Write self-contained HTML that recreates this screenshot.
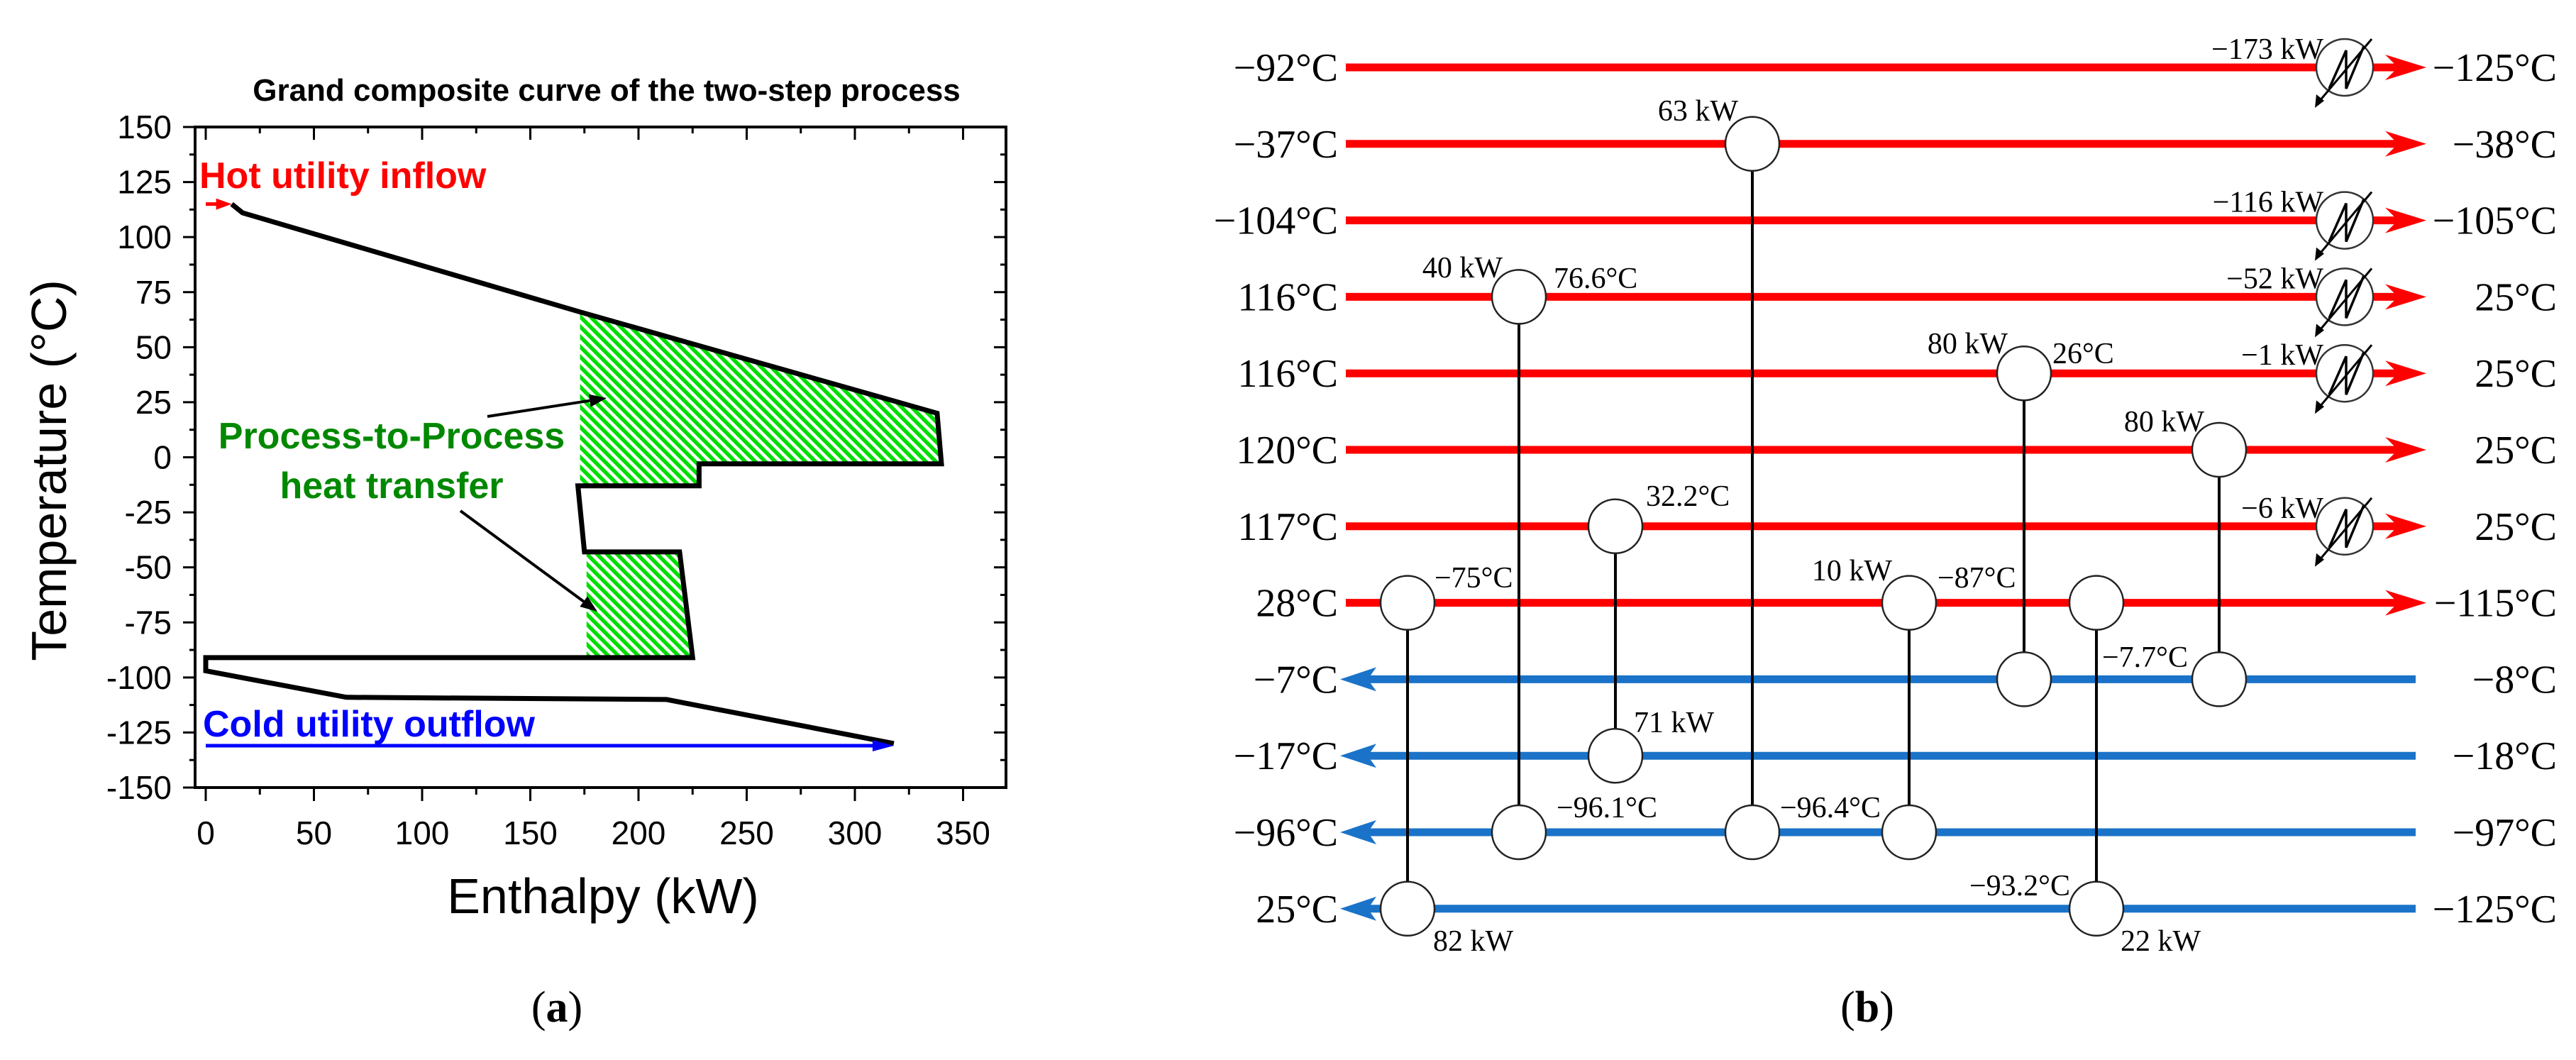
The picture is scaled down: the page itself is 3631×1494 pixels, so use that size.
<!DOCTYPE html>
<html><head><meta charset="utf-8"><title>Grand composite curve and heat exchanger network</title>
<style>
html,body{margin:0;padding:0;background:#fff;}
svg{display:block;}
.sans{font-family:"Liberation Sans",Arial,sans-serif;}
.serif{font-family:"Liberation Serif","Times New Roman",serif;}
</style></head>
<body>
<svg id="fig" width="3631" height="1494" viewBox="0 0 3631 1494" xmlns="http://www.w3.org/2000/svg">
<defs>
<pattern id="hatch" patternUnits="userSpaceOnUse" width="10" height="10" patternTransform="rotate(-45)">
<rect width="10" height="10" fill="#ffffff"/>
<rect x="0" y="0" width="5.5" height="10" fill="#00dd00"/>
</pattern>
</defs>
<rect x="0" y="0" width="3631" height="1494" fill="#fff"/>
<g id="left"></g>
<g id="right"></g>
<text x="785" y="1440" text-anchor="middle" class="serif" font-size="62">(<tspan font-weight="bold">a</tspan>)</text>
<text x="2632" y="1440" text-anchor="middle" class="serif" font-size="62">(<tspan font-weight="bold">b</tspan>)</text>
</svg>
<script>
// ---------- Panel (a) data ----------
const curveKW = [12, 17, 173, 338, 340, 228, 228, 172, 175, 219, 225, 0, 0, 65, 213, 318];
const curveT  = [115, 111, 66, 20, -3, -3, -13, -13, -43, -43, -91, -91, -97, -109, -110, -130];
const hatchAKW = [173, 338, 340, 228, 228, 173];
const hatchAT  = [66, 20, -3, -3, -13, -13];
const hatchBKW = [176, 219, 225, 176];
const hatchBT  = [-43, -43, -91, -91];
const hotUtilKW = [0, 12];
const hotUtilT = [115, 115];
const coldUtilKW = [0, 318];
const coldUtilT = [-131, -131];
const xTicks = [0, 50, 100, 150, 200, 250, 300, 350];
const yTicks = [150, 125, 100, 75, 50, 25, 0, -25, -50, -75, -100, -125, -150];

// ---------- Panel (b) data ----------
const inletLabels  = ["−92°C","−37°C","−104°C","116°C","116°C","120°C","117°C","28°C","−7°C","−17°C","−96°C","25°C"];
const outletLabels = ["−125°C","−38°C","−105°C","25°C","25°C","25°C","25°C","−115°C","−8°C","−18°C","−97°C","−125°C"];
const hotRows = [0,1,2,3,4,5,6,7];
const coldRows = [8,9,10,11];
const exchHotRow  = [7, 3, 6, 1, 7, 4, 7, 5];
const exchColdRow = [11, 10, 9, 10, 10, 8, 11, 8];
const coolerRows = [0, 2, 3, 4, 6];
const coolerDuty = ["−173 kW","−116 kW","−52 kW","−1 kW","−6 kW"];

const NS = "http://www.w3.org/2000/svg";
function mk(parent, tag, attrs, text){
  const el = document.createElementNS(NS, tag);
  for (const k in attrs) el.setAttribute(k, attrs[k]);
  if (text !== undefined) el.textContent = text;
  parent.appendChild(el);
  return el;
}

// ===== Panel (a) =====
const L = document.getElementById('left');
const X0 = 290, PXKW = 3.05, TOP = 179, BOT = 1110, LEFT = 275, RIGHT = 1418;
const sx = k => X0 + k * PXKW;
const sy = t => TOP + (150 - t) * (BOT - TOP) / 300;
const pts = (ks, ts) => ks.map((k, i) => sx(k).toFixed(1) + ',' + sy(ts[i]).toFixed(1)).join(' ');

let el;
el = mk(L, 'polygon', {points: pts(hatchAKW, hatchAT), fill: 'url(#hatch)'});


el = mk(L, 'polygon', {points: pts(hatchBKW, hatchBT), fill: 'url(#hatch)'});



el = mk(L, 'polyline', {points: pts(curveKW, curveT), fill: 'none', stroke: '#000', 'stroke-width': 7, 'stroke-linejoin': 'miter'});



// hot utility arrow
el = mk(L, 'line', {x1: sx(hotUtilKW[0]), y1: sy(hotUtilT[0]), x2: sx(hotUtilKW[1]) - 10, y2: sy(hotUtilT[1]), stroke: '#ff0000', 'stroke-width': 5});


el = mk(L, 'polygon', {points: `${sx(hotUtilKW[1])},${sy(hotUtilT[1])} ${sx(hotUtilKW[1])-22},${sy(hotUtilT[1])-8} ${sx(hotUtilKW[1])-22},${sy(hotUtilT[1])+8}`, fill: '#ff0000'});


// cold utility arrow
el = mk(L, 'line', {x1: sx(coldUtilKW[0]), y1: sy(coldUtilT[0]), x2: sx(coldUtilKW[1]) - 15, y2: sy(coldUtilT[1]), stroke: '#0000ff', 'stroke-width': 5});


el = mk(L, 'polygon', {points: `${sx(coldUtilKW[1])},${sy(coldUtilT[1])} ${sx(coldUtilKW[1])-30},${sy(coldUtilT[1])-8} ${sx(coldUtilKW[1])-30},${sy(coldUtilT[1])+8}`, fill: '#0000ff'});



// frame
el = mk(L, 'rect', {x: LEFT, y: TOP, width: RIGHT - LEFT, height: BOT - TOP, fill: 'none', stroke: '#000', 'stroke-width': 4});



// x ticks
for (let i = 0; i < xTicks.length; i++) {
  const v = xTicks[i], x = sx(v);
  el = mk(L, 'line', {x1: x, y1: BOT, x2: x, y2: BOT + 19, stroke: '#000', 'stroke-width': 3});
  
  
  el = mk(L, 'line', {x1: x, y1: TOP, x2: x, y2: TOP + 18, stroke: '#000', 'stroke-width': 3});
  
  
  const m = sx(v + 25);
  if (m < RIGHT) {
    el = mk(L, 'line', {x1: m, y1: BOT, x2: m, y2: BOT + 10, stroke: '#000', 'stroke-width': 3});
    
    
    el = mk(L, 'line', {x1: m, y1: TOP, x2: m, y2: TOP + 9, stroke: '#000', 'stroke-width': 3});
    
    
  }
  el = mk(L, 'text', {x: x, y: BOT + 80, 'text-anchor': 'middle', class: 'sans', 'font-size': 46}, String(v));
  
  
}
// y ticks
for (let i = 0; i < yTicks.length; i++) {
  const v = yTicks[i], y = sy(v);
  el = mk(L, 'line', {x1: LEFT - 17, y1: y, x2: LEFT, y2: y, stroke: '#000', 'stroke-width': 3});
  
  
  el = mk(L, 'line', {x1: RIGHT - 17, y1: y, x2: RIGHT, y2: y, stroke: '#000', 'stroke-width': 3});
  
  
  if (v > -150) {
    const m = sy(v - 12.5);
    el = mk(L, 'line', {x1: LEFT - 8, y1: m, x2: LEFT, y2: m, stroke: '#000', 'stroke-width': 3});
    
    
    el = mk(L, 'line', {x1: RIGHT - 8, y1: m, x2: RIGHT, y2: m, stroke: '#000', 'stroke-width': 3});
    
    
  }
  el = mk(L, 'text', {x: 242, y: y + 16, 'text-anchor': 'end', class: 'sans', 'font-size': 46}, String(v));
  
  
}
// titles & annotations
el = mk(L, 'text', {x: 855, y: 142, 'text-anchor': 'middle', class: 'sans', 'font-size': 44, 'font-weight': 'bold'}, 'Grand composite curve of the two-step process');


el = mk(L, 'text', {x: 850, y: 1287, 'text-anchor': 'middle', class: 'sans', 'font-size': 70}, 'Enthalpy (kW)');


el = mk(L, 'text', {x: 0, y: 0, 'text-anchor': 'middle', class: 'sans', 'font-size': 70, transform: 'translate(93,663) rotate(-90)'}, 'Temperature (°C)');


el = mk(L, 'text', {x: 281, y: 265, class: 'sans', 'font-size': 52, 'font-weight': 'bold', fill: '#ff0000'}, 'Hot utility inflow');


el = mk(L, 'text', {x: 286, y: 1038, class: 'sans', 'font-size': 52, 'font-weight': 'bold', fill: '#0000ff'}, 'Cold utility outflow');


el = mk(L, 'text', {x: 552, y: 632, 'text-anchor': 'middle', class: 'sans', 'font-size': 52, 'font-weight': 'bold', fill: '#008800'}, 'Process-to-Process');


el = mk(L, 'text', {x: 552, y: 702, 'text-anchor': 'middle', class: 'sans', 'font-size': 52, 'font-weight': 'bold', fill: '#008800'}, 'heat transfer');


function annArrow(x1, y1, x2, y2, name) {
  const a = Math.atan2(y2 - y1, x2 - x1), h = 24, w = 9;
  const bx = x2 - h * Math.cos(a), by = y2 - h * Math.sin(a);
  let e = mk(L, 'line', {x1: x1, y1: y1, x2: bx, y2: by, stroke: '#000', 'stroke-width': 4});
  
  
  e = mk(L, 'polygon', {points: `${x2},${y2} ${bx - w*Math.sin(a)},${by + w*Math.cos(a)} ${bx + w*Math.sin(a)},${by - w*Math.cos(a)}`, fill: '#000'});
  
  
}
annArrow(687, 587, 855, 561, 'annotation-arrow-upper');
annArrow(649, 720, 842, 862, 'annotation-arrow-lower');

// ===== Panel (b) =====
const R = document.getElementById('right');
const rowY = i => 95 + i * 107.8;
const colX = [1984, 2141, 2277, 2470, 2691, 2853, 2955, 3128];
const CR = 38, COOLX = 3305;

// streams
for (const r of hotRows) {
  const y = rowY(r);
  el = mk(R, 'line', {x1: 1897, y1: y, x2: 3380, y2: y, stroke: '#ff0000', 'stroke-width': 11});
  
  
  el = mk(R, 'polygon', {points: `3420,${y} 3362,${y-18} 3380,${y} 3362,${y+18}`, fill: '#ff0000'});
  
  
}
for (const r of coldRows) {
  const y = rowY(r);
  el = mk(R, 'line', {x1: 1928, y1: y, x2: 3405, y2: y, stroke: '#1a73c8', 'stroke-width': 11});
  
  
  el = mk(R, 'polygon', {points: `1889,${y} 1940,${y-17} 1928,${y} 1940,${y+17}`, fill: '#1a73c8'});
  
  
}
for (let r = 0; r < 12; r++) {
  const y = rowY(r);
  el = mk(R, 'text', {x: 1886, y: y + 19, 'text-anchor': 'end', class: 'serif', 'font-size': 56}, inletLabels[r]);
  
  
  el = mk(R, 'text', {x: 3604, y: y + 19, 'text-anchor': 'end', class: 'serif', 'font-size': 56}, outletLabels[r]);
  
  
}
// exchangers
for (let i = 0; i < colX.length; i++) {
  const x = colX[i], yh = rowY(exchHotRow[i]), yc = rowY(exchColdRow[i]);
  el = mk(R, 'line', {x1: x, y1: yh, x2: x, y2: yc, stroke: '#000', 'stroke-width': 4});
  
  
  el = mk(R, 'circle', {cx: x, cy: yh, r: CR, fill: '#fff', stroke: '#222', 'stroke-width': 2.5});
  
  
  el = mk(R, 'circle', {cx: x, cy: yc, r: CR, fill: '#fff', stroke: '#222', 'stroke-width': 2.5});
  
  
}
// coolers
for (let i = 0; i < coolerRows.length; i++) {
  const x = COOLX, y = rowY(coolerRows[i]);
  el = mk(R, 'circle', {cx: x, cy: y, r: 40, fill: '#fff', stroke: '#333', 'stroke-width': 2.5});
  
  
  el = mk(R, 'polyline', {points: `${x-22},${y+30} ${x+2},${y-24} ${x+2},${y+30} ${x+27},${y-30}`, fill: 'none', stroke: '#000', 'stroke-width': 3.5});
  
  
  el = mk(R, 'line', {x1: x + 38, y1: y - 40, x2: x - 36, y2: y + 48, stroke: '#000', 'stroke-width': 3});
  
  
  el = mk(R, 'polygon', {points: `${x-42},${y+57} ${x-40},${y+38} ${x-29},${y+47}`, fill: '#000'});
  
  
  el = mk(R, 'text', {x: x - 30, y: y - 12, 'text-anchor': 'end', class: 'serif', 'font-size': 42}, coolerDuty[i]);
  
  
}
</script>
<svg width="0" height="0" style="position:absolute"></svg>
<script>
// static exchanger annotations
(function(){
  const R = document.getElementById('right');
  const labels = [
    ["63 kW", 2450, 170, "end"], ["40 kW", 2118, 391, "end"], ["76.6°C", 2190, 406, "start"],
    ["80 kW", 2830, 498, "end"], ["26°C", 2893, 512, "start"], ["80 kW", 3107, 608, "end"],
    ["32.2°C", 2320, 713, "start"], ["−75°C", 2022, 828, "start"], ["10 kW", 2667, 818, "end"],
    ["−87°C", 2731, 828, "start"], ["−7.7°C", 2963, 940, "start"], ["71 kW", 2303, 1032, "start"],
    ["−96.1°C", 2194, 1152, "start"], ["−96.4°C", 2509, 1152, "start"], ["−93.2°C", 2776, 1262, "start"],
    ["82 kW", 2020, 1340, "start"], ["22 kW", 2989, 1340, "start"]
  ];
  for (const l of labels) {
    const t = document.createElementNS("http://www.w3.org/2000/svg", "text");
    t.setAttribute('x', l[1]); t.setAttribute('y', l[2]);
    t.setAttribute('text-anchor', l[3]);
    t.setAttribute('class', 'serif'); t.setAttribute('font-size', '42');
    t.textContent = l[0];
    
    
    R.appendChild(t);
  }
})();
</script>
</body></html>
